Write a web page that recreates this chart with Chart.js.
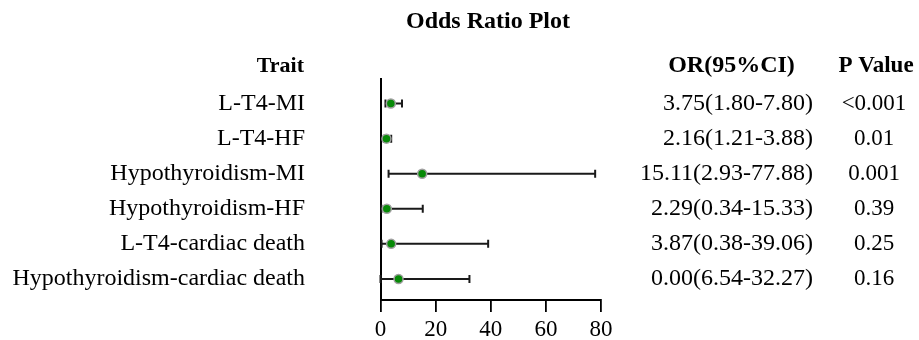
<!DOCTYPE html>
<html>
<head>
<meta charset="utf-8">
<script src="https://cdn.jsdelivr.net/npm/chart.js@4.4.1/dist/chart.umd.min.js"></script>
<style>
  html, body { margin: 0; padding: 0; background: #fff; }
  #wrap { width: 919px; height: 340px; position: relative; }
</style>
</head>
<body>
<div id="wrap"><canvas id="c" width="919" height="340"></canvas></div>
<script>
// ---- data ----
const chartTitle = 'Odds Ratio Plot';
const traits = ['L-T4-MI', 'L-T4-HF', 'Hypothyroidism-MI', 'Hypothyroidism-HF', 'L-T4-cardiac death', 'Hypothyroidism-cardiac death'];
const oddsRatio = [3.75, 2.16, 15.11, 2.29, 3.87, 6.54];
const ciLower = [1.80, 1.21, 2.93, 0.34, 0.38, 0.00];
const ciUpper = [7.80, 3.88, 77.88, 15.33, 39.06, 32.27];
const orLabels = ['3.75(1.80-7.80)', '2.16(1.21-3.88)', '15.11(2.93-77.88)', '2.29(0.34-15.33)', '3.87(0.38-39.06)', '0.00(6.54-32.27)'];
const pValues = ['<0.001', '0.01', '0.001', '0.39', '0.25', '0.16'];
const xTicks = [0, 20, 40, 60, 80];
const headers = { trait: 'Trait', or: 'OR(95%CI)', p: 'P Value' };

const SERIF = '"Liberation Serif", "Times New Roman", Times, serif';

const points = oddsRatio.map((v, i) => ({ x: v, y: i + 1 }));

function drawText(ctx, text, x, y, align, font, sx) {
  ctx.save();
  ctx.font = font;
  ctx.fillStyle = '#000';
  ctx.textAlign = align;
  ctx.textBaseline = 'middle';
  ctx.translate(x, y);
  ctx.scale(sx || 1, 1);
  ctx.fillText(text, 0, 0);
  ctx.restore();
}

const forestPlugin = {
  id: 'forest',
  beforeDatasetsDraw(chart) {
    const ctx = chart.ctx;
    const xs = chart.scales.x, ys = chart.scales.y;
    ctx.save();
    ctx.strokeStyle = '#1a1a1a';
    ctx.lineWidth = 2;
    for (let i = 0; i < oddsRatio.length; i++) {
      const y = ys.getPixelForValue(i + 1);
      const x1 = xs.getPixelForValue(ciLower[i]);
      const x2 = xs.getPixelForValue(ciUpper[i]);
      ctx.beginPath();
      ctx.moveTo(x1, y); ctx.lineTo(x2, y);
      ctx.moveTo(x1, y - 4); ctx.lineTo(x1, y + 4);
      ctx.moveTo(x2, y - 4); ctx.lineTo(x2, y + 4);
      ctx.stroke();
    }
    ctx.restore();
  },
  afterDraw(chart) {
    const ctx = chart.ctx;
    const ys = chart.scales.y;
    drawText(ctx, chartTitle, 488, 22, 'center', 'bold 24px ' + SERIF, 1);
    const hy = 66;
    drawText(ctx, headers.trait, 304, hy, 'right', 'bold 22px ' + SERIF, 1);
    drawText(ctx, headers.or, 731.5, hy, 'center', 'bold 24px ' + SERIF, 1);
    drawText(ctx, headers.p, 876, hy, 'center', 'bold 23px ' + SERIF, 1);
    for (let i = 0; i < traits.length; i++) {
      const y = ys.getPixelForValue(i + 1);
      drawText(ctx, traits[i], 305, y, 'right', '24px ' + SERIF, 1);
      drawText(ctx, orLabels[i], 813, y, 'right', '24px ' + SERIF, 1);
      drawText(ctx, pValues[i], 874, y, 'center', '23px ' + SERIF, 1);
    }
  }
};

new Chart(document.getElementById('c'), {
  type: 'scatter',
  data: {
    datasets: [{
      data: points,
      backgroundColor: '#078a07',
      borderColor: '#a0a0a0',
      borderWidth: 1.5,
      pointRadius: 4.5,
      pointHoverRadius: 4.5
    }]
  },
  options: {
    responsive: false,
    animation: false,
    events: [],
    layout: { padding: { left: 380.5, right: 318, top: 79, bottom: 0 } },
    plugins: { legend: { display: false }, tooltip: { enabled: false }, title: { display: false } },
    scales: {
      x: {
        type: 'linear',
        min: 0, max: 80,
        afterBuildTicks(scale) { scale.ticks = xTicks.map(v => ({ value: v })); },
        afterFit(scale) { scale.height = 40; },
        grid: { display: true, drawOnChartArea: false, drawTicks: true, tickLength: 12, color: '#000', lineWidth: 1.8 },
        border: { display: true, color: '#000', width: 2 },
        ticks: { color: '#000', font: { family: SERIF, size: 23 }, padding: 4, maxRotation: 0 }
      },
      y: {
        type: 'linear',
        min: 0.3, max: 6.6,
        reverse: true,
        afterFit(scale) { scale.width = 0; },
        grid: { display: false, drawTicks: false },
        border: { display: true, color: '#000', width: 2 },
        ticks: { display: false }
      }
    }
  },
  plugins: [forestPlugin]
});
</script>
</body>
</html>
